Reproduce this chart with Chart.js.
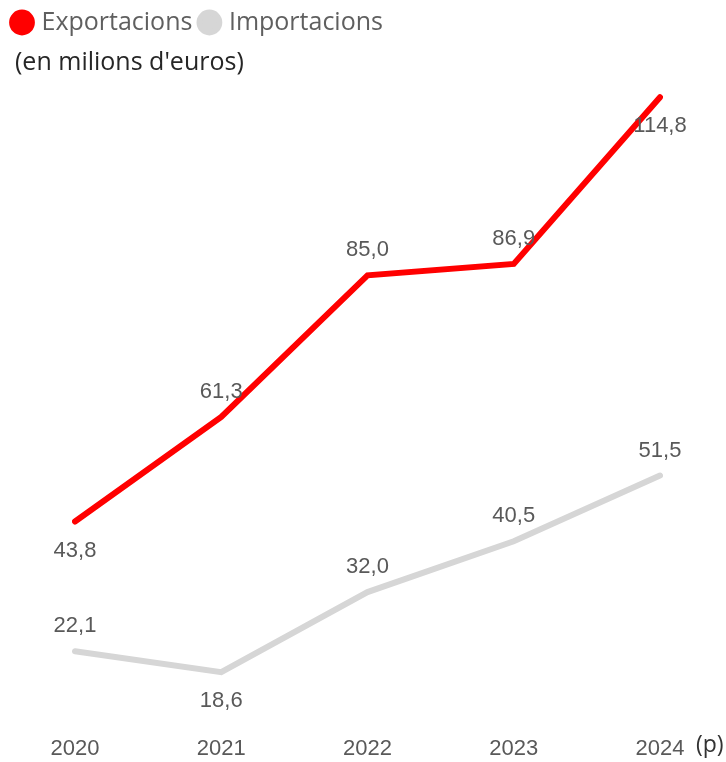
<!DOCTYPE html>
<html>
<head>
<meta charset="utf-8">
<script src="https://cdn.jsdelivr.net/npm/chart.js@4.4.1/dist/chart.umd.min.js"></script>
<style>
  html, body { margin: 0; padding: 0; background: #fff; }
  #wrap { width: 726px; height: 762px; position: relative; }
</style>
</head>
<body>
<div id="wrap"><canvas id="tradeChart"></canvas></div>
<script>
// Data
const years = ['2020', '2021', '2022', '2023', '2024'];
const exportacions = [43.8, 61.3, 85.0, 86.9, 114.8];
const importacions = [22.1, 18.6, 32.0, 40.5, 51.5];
const provisionalNote = '(p)';
const unitNote = "(en milions d'euros)";

// where each value label sits relative to its point
const exportLabelSide = ['below', 'above', 'above', 'above', 'below'];
const importLabelSide = ['above', 'below', 'above', 'above', 'above'];

const fmt = v => v.toFixed(1).replace('.', ',');

// Value labels + the "(p)" note after the last year
const valueLabels = {
  id: 'valueLabels',
  afterLayout(chart) {
    // nudge the unit subtitle a little to the right of the legend dots
    chart.boxes.forEach(b => {
      if (b.options && b.options.text === unitNote) b.left += 10;
    });
  },
  afterDatasetsDraw(chart) {
    const ctx = chart.ctx;
    ctx.save();
    ctx.font = '22px "Liberation Sans", Arial, sans-serif';
    ctx.fillStyle = '#595959';
    ctx.textAlign = 'center';
    ctx.textBaseline = 'middle';
    chart.data.datasets.forEach((ds, i) => {
      const meta = chart.getDatasetMeta(i);
      const sides = i === 0 ? exportLabelSide : importLabelSide;
      meta.data.forEach((pt, j) => {
        const dy = sides[j] === 'above' ? -25 : 29;
        ctx.fillText(fmt(ds.data[j]), pt.x, pt.y + dy);
      });
    });

    const xScale = chart.scales.x;
    const lastX = xScale.getPixelForValue(years.length - 1);
    const tickY = xScale.top + xScale.options.ticks.padding + 12;
    ctx.font = '23px "Open Sans", sans-serif';
    ctx.fillStyle = '#333333';
    ctx.textAlign = 'left';
    ctx.fillText(provisionalNote, lastX + 36, tickY - 2);
    ctx.restore();
  }
};

const ctx = document.getElementById('tradeChart').getContext('2d');
new Chart(ctx, {
  type: 'line',
  data: {
    labels: years,
    datasets: [
      {
        label: 'Exportacions',
        data: exportacions,
        borderColor: '#ff0000',
        backgroundColor: '#ff0000',
        borderWidth: 6,
        borderCapStyle: 'round',
        pointRadius: 0,
        tension: 0
      },
      {
        label: 'Importacions',
        data: importacions,
        borderColor: '#d6d6d6',
        backgroundColor: '#d6d6d6',
        borderWidth: 6,
        borderCapStyle: 'round',
        pointRadius: 0,
        tension: 0
      }
    ]
  },
  options: {
    responsive: true,
    maintainAspectRatio: false,
    animation: false,
    layout: { padding: { left: 5, right: 66, bottom: -12, top: 0 } },
    plugins: {
      legend: {
        position: 'top',
        align: 'start',
        labels: {
          usePointStyle: true,
          pointStyle: 'circle',
          boxWidth: 14,
          boxHeight: 14,
          padding: 10,
          color: '#5f5f5f',
          font: { family: '"Open Sans", sans-serif', size: 25 }
        }
      },
      subtitle: {
        display: true,
        text: unitNote,
        align: 'start',
        weight: 500,
        color: '#262626',
        font: { family: '"Open Sans", sans-serif', size: 25, weight: 'normal' },
        padding: { top: 3, bottom: 6 }
      },
      tooltip: { enabled: false }
    },
    scales: {
      x: {
        grid: { display: false, drawTicks: false },
        border: { display: false },
        ticks: {
          padding: 12,
          color: '#595959',
          font: { family: '"Liberation Sans", Arial, sans-serif', size: 22 }
        }
      },
      y: {
        min: 10,
        max: 117,
        grid: { display: false, drawTicks: false },
        border: { display: false },
        ticks: { display: false },
        afterFit: scale => { scale.width = 70; }
      }
    }
  },
  plugins: [valueLabels]
});
</script>
</body>
</html>
